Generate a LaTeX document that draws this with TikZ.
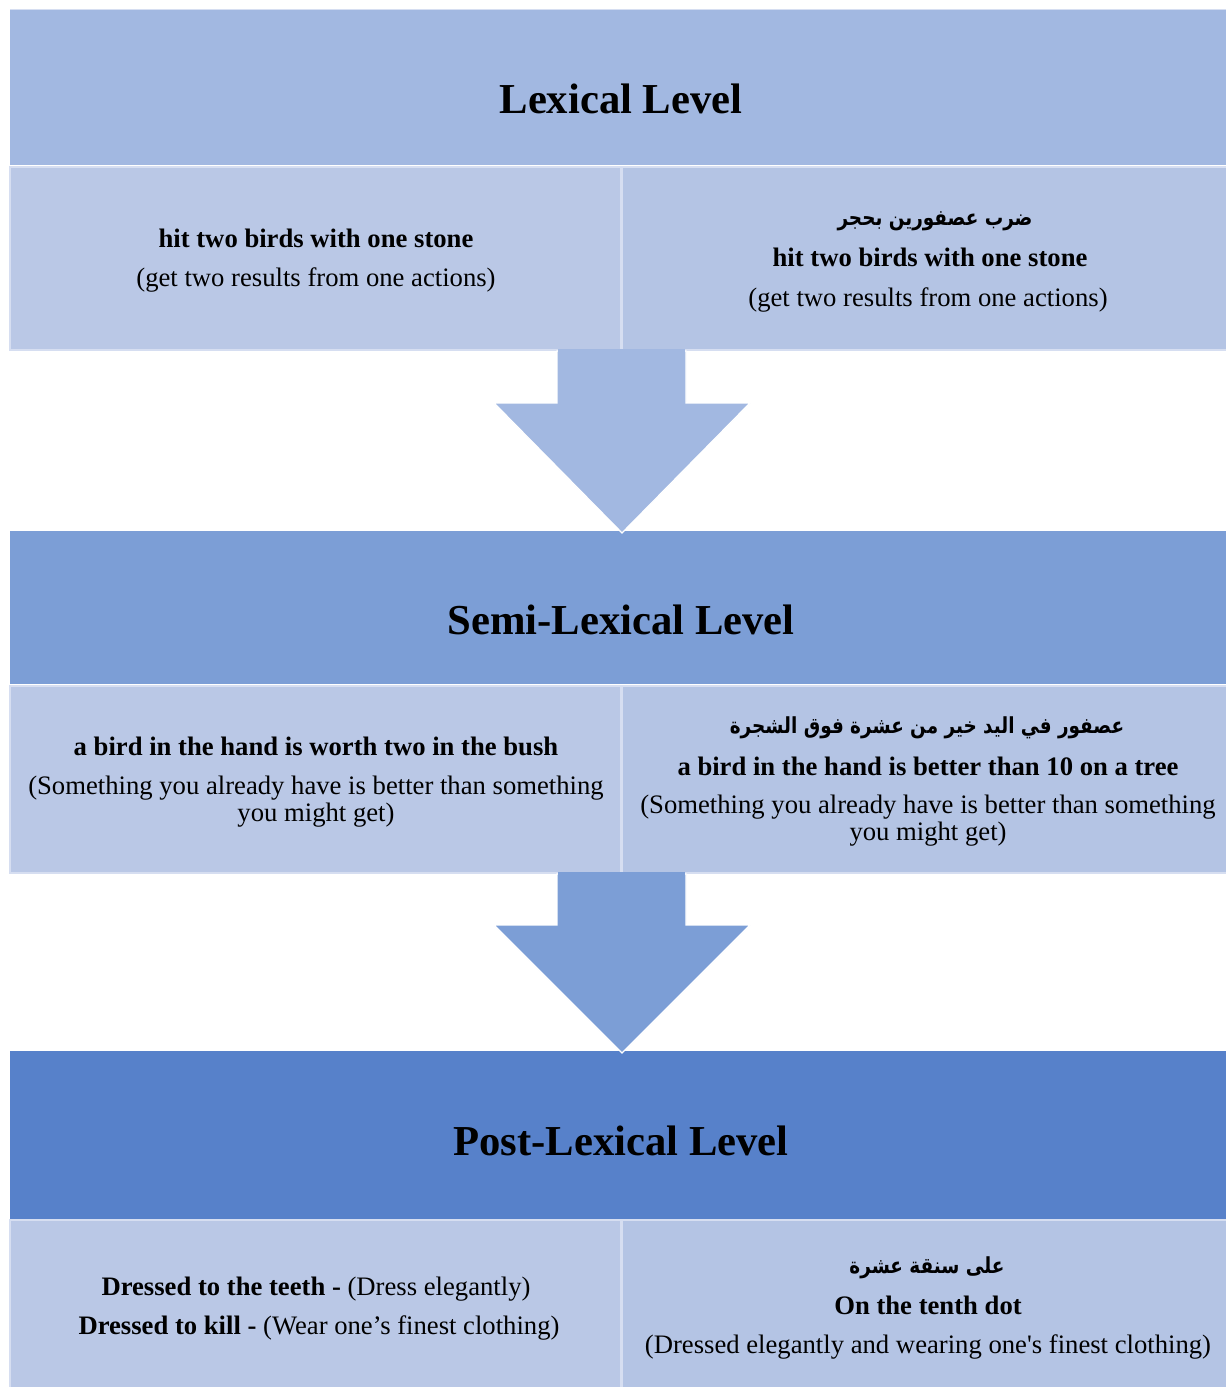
\documentclass[tikz,border=0pt]{standalone}
\usepackage{fontspec}
\setmainfont{Liberation Serif}
\newfontfamily\rawserif{Liberation Serif}
\newfontfamily\arabicfont[Script=Arabic]{DejaVu Sans}
\TeXXeTstate=1

\definecolor{lvA}{HTML}{A2B8E1}
\definecolor{lvB}{HTML}{7C9ED6}
\definecolor{lvC}{HTML}{5781CA}
\definecolor{cellL}{HTML}{BAC8E6}
\definecolor{cellR}{HTML}{B4C4E4}
\definecolor{rim}{HTML}{D6DEF1}

% bold Arabic line, set right to left and stretched a little upward
\newcommand{\ar}[1]{\scalebox{1}[1.2]{\arabicfont\bfseries\fontsize{13.8}{16}\selectfont\beginR #1\endR}}

\begin{document}
\begin{tikzpicture}[x=0.75pt,y=-0.75pt,
  headtext/.style={font=\bfseries\fontsize{32}{36}\selectfont, inner sep=0pt},
  celltext/.style={font=\fontsize{20}{22}\selectfont, align=center, inner sep=0pt},
  cellbox/.style={draw=rim, line width=1.2pt},
  downarrow/.style={draw=white, line width=1pt, line join=miter}]

\useasboundingbox (0,0) rectangle (1225,1387);
\fill[white] (0,0) rectangle (1225,1387);

% ---------- Lexical level ----------
\fill[lvA] (10,10) rectangle (1226,165);
\draw[rim, line width=0.8pt] (10,9.5) -- (1226,9.5);
\fill[cellbox, fill=cellL] (10,167) rectangle (621,350);
\fill[cellbox, fill=cellR] (622,167) rectangle (1227,350);
\draw[rim, line width=2pt] (10,350) -- (1226,350);

% ---------- Semi-lexical level ----------
\fill[lvB] (10,531) rectangle (1226,684);
\fill[cellbox, fill=cellL] (10,686) rectangle (621,873);
\fill[cellbox, fill=cellR] (622,686) rectangle (1227,873);
\draw[rim, line width=2pt] (10,873) -- (1226,873);

% ---------- Post-lexical level ----------
\fill[lvC] (10,1051) rectangle (1226,1219);
\fill[cellbox, fill=cellL] (10,1220) rectangle (621,1390);
\fill[cellbox, fill=cellR] (622,1220) rectangle (1227,1390);

% ---------- arrows between levels ----------
\filldraw[lvA, downarrow] (557,351) -- (686,351) -- (686,403) -- (750,403)
  -- (622,533) -- (494,403) -- (557,403) -- cycle;
\fill[lvA] (558,349) rectangle (685,356);
\filldraw[lvB, downarrow] (557,874) -- (686,874) -- (686,925) -- (750,925)
  -- (622,1053) -- (494,925) -- (557,925) -- cycle;
\fill[lvB] (558,872) rectangle (685,879);

% ---------- level titles ----------
\node[headtext] (lexT) at (621,99) {Lexical Level};
\node[headtext] (semiT) at (621,620) {Semi-Lexical Level};
\node[headtext] (postT) at (621,1141) {Post-Lexical Level};

% ---------- Lexical level examples ----------
\node[celltext, anchor=base] (lexL1) at (316,248) {\textbf{hit two birds with one stone}};
\node[celltext, anchor=base] (lexL2) at (316,287) {(get two results from one actions)};
\node[celltext, anchor=base] (lexR0) at (935,226) {\ar{ضرب عصفورين بحجر}};
\node[celltext, anchor=base] (lexR1) at (930,267) {\textbf{hit two birds with one stone}};
\node[celltext, anchor=base] (lexR2) at (928,306) {(get two results from one actions)};

% ---------- Semi-lexical level examples ----------
\node[celltext, anchor=base] (semiL1) at (316,755) {\textbf{a bird in the hand is worth two in the bush}};
\node[celltext, anchor=base] (semiL2) at (316,794) {(Something you already have is better than something};
\node[celltext, anchor=base] (semiL3) at (316,821) {you might get)};
\node[celltext, anchor=base] (semiR0) at (927,733) {\ar{عصفور في اليد خير من عشرة فوق الشجرة}};
\node[celltext, anchor=base] (semiR1) at (928,775) {\textbf{a bird in the hand is better than 10 on a tree}};
\node[celltext, anchor=base] (semiR2) at (928,813) {(Something you already have is better than something};
\node[celltext, anchor=base] (semiR3) at (928,840) {you might get)};

% ---------- Post-lexical level examples ----------
\node[celltext, anchor=base] (postL1) at (316,1295) {\textbf{Dressed to the teeth -} (Dress elegantly)};
\node[celltext, anchor=base] (postL2) at (319,1334) {\textbf{Dressed to kill -} (Wear one’s finest clothing)};
\node[celltext, anchor=base] (postR0) at (927,1273) {\ar{على سنقة عشرة}};
\node[celltext, anchor=base] (postR1) at (928,1314) {\textbf{On the tenth dot}};
\node[celltext, anchor=base] (postR2) at (928,1353) {(Dressed elegantly and wearing one{\rawserif'}s finest clothing)};

\end{tikzpicture}
\end{document}
